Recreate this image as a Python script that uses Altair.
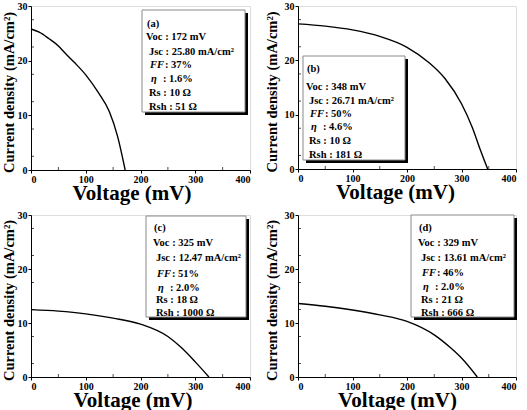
import altair as alt
import pandas as pd

FONT = "Liberation Serif"

# J-V curves of the four cells (voltage in mV, current density in mA/cm2)
voltage_a = [0, 15, 33, 50, 63, 80, 100, 124, 143, 158, 172]
current_a = [25.8, 25.2, 24.0, 22.7, 21.3, 19.6, 17.4, 14.0, 10.7, 6.2, 0]
voltage_b = [0, 50, 100, 150, 200, 240, 270, 300, 320, 335, 348]
current_b = [26.71, 26.3, 25.6, 24.4, 22.4, 19.6, 16.6, 12.0, 7.6, 3.4, 0]
voltage_c = [0, 50, 100, 150, 200, 250, 275, 300, 325]
current_c = [12.47, 12.2, 11.7, 10.9, 9.8, 7.5, 5.4, 2.8, 0]
voltage_d = [0, 50, 100, 150, 200, 250, 280, 300, 329]
current_d = [13.61, 13.1, 12.4, 11.5, 10.3, 7.8, 5.4, 3.5, 0]

# cell parameters shown in each inset
panel_tags = ["(a)", "(b)", "(c)", "(d)"]
voc_mv = [172, 348, 325, 329]
jsc_ma = ["25.80", "26.71", "12.47", "13.61"]
ff_pct = [37, 50, 51, 46]
eta_pct = ["1.6", "4.6", "2.0", "2.0"]
rs_ohm = [10, 10, 18, 21]
rsh_ohm = [51, 181, 1000, 666]

x_ticks = [0, 100, 200, 300, 400]
y_ticks = [0, 5, 10, 15, 20, 25, 30]
x_minor = [50, 150, 250, 350]
y_minor = [2.5, 7.5, 12.5, 17.5, 22.5, 27.5]

# inset layout in pixels relative to each plot area:
# box (x1, y1, x2, y2), text left offset, text row centres, plot size, title offsets
layout = [
    dict(box=(111, 4, 214, 106), tl=5, rows=[18, 31, 46, 59, 73, 87, 101],
         w=219, h=164, tx=-22, xt=29, xs=-9),
    dict(box=(5, 50, 107, 154), tl=4, rows=[63, 81, 95, 108, 121, 135, 149],
         w=218, h=163, tx=-26, xt=29, xs=-12),
    dict(box=(115, 1, 215, 102), tl=8, rows=[13, 28, 43, 59, 73, 85, 98],
         w=219, h=162, tx=-22, xt=29, xs=-8),
    dict(box=(113, 0, 216, 102), tl=8, rows=[13, 28, 43, 58, 72, 85, 98],
         w=218, h=162, tx=-26, xt=29, xs=-10),
]

curves = [
    (voltage_a, current_a),
    (voltage_b, current_b),
    (voltage_c, current_c),
    (voltage_d, current_d),
]


def axis_style(title, size, **kw):
    return alt.Axis(
        title=title, titleFont=FONT, titleFontWeight="bold", titleFontSize=size,
        titleColor="black", labelFont=FONT, labelFontWeight="bold", labelFontSize=10,
        labelColor="black", domainColor="black", tickColor="black", tickSize=3,
        labelPadding=1, grid=False, **kw)


def rect(x1, y1, x2, y2, fill, stroke=None):
    kw = dict(fill=fill)
    if stroke:
        kw.update(stroke=stroke, strokeWidth=1)
    return alt.Chart(pd.DataFrame({"k": [0]})).mark_rect(**kw).encode(
        x=alt.value(x1), x2=alt.value(x2), y=alt.value(y1), y2=alt.value(y2))


def panel(i):
    lay = layout[i]
    w, h = lay["w"], lay["h"]
    volts, amps = curves[i]
    df = pd.DataFrame({"V": volts, "J": amps})

    xenc = alt.X("V:Q", scale=alt.Scale(domain=[0, 400], nice=False),
                 axis=axis_style("Voltage (mV)", 21, values=x_ticks, titleY=lay["xt"],
                                 titleX=w / 2 + lay["xs"], titleAlign="center",
                                 titleBaseline="alphabetic"))
    yenc = alt.Y("J:Q", scale=alt.Scale(domain=[0, 30], nice=False),
                 axis=axis_style("Current density (mA/cm²)", 14.5, values=y_ticks,
                                 titleX=lay["tx"], titleY=h / 2 + 4, titleAngle=270,
                                 titleAlign="center", titleBaseline="middle"))

    line = alt.Chart(df).mark_line(color="black", strokeWidth=1.4,
                                   interpolate="monotone").encode(x=xenc, y=yenc)

    xm = alt.Chart(pd.DataFrame({"V": x_minor})).mark_tick(
        color="black", thickness=1, size=3, orient="vertical").encode(
        x=alt.X("V:Q"), y=alt.value(h - 1.5))
    ym = alt.Chart(pd.DataFrame({"J": y_minor})).mark_tick(
        color="black", thickness=1, size=3, orient="horizontal").encode(
        y=alt.Y("J:Q"), x=alt.value(1.5))

    x1, y1, x2, y2 = lay["box"]
    shadow = rect(x1 + 3, y1 + 3, x2 + 3, y2 + 3, "black")
    inner = rect(x1, y1, x2, y2, "white", "#8a8a8a")

    r = lay["rows"]
    t0 = x1 + lay["tl"]
    normal = pd.DataFrame({
        "t": [panel_tags[i], f"Voc : {voc_mv[i]} mV", f"Jsc : {jsc_ma[i]} mA/cm²",
              f": {ff_pct[i]}%", f": {eta_pct[i]}%", f"Rs : {rs_ohm[i]} Ω",
              f"Rsh : {rsh_ohm[i]} Ω"],
        "px": [t0, t0 - 1, t0 + 2, t0 + 18, t0 + 16, t0 + 2, t0 + 2],
        "py": r,
    })
    italic = pd.DataFrame({
        "t": ["FF", "η"],
        "px": [t0 + 3, t0 + 4],
        "py": [r[3], r[4]],
    })
    txt_n = alt.Chart(normal).mark_text(
        font=FONT, fontWeight="bold", fontSize=10.5, align="left",
        baseline="middle", color="black").encode(
        x=alt.X("px:Q", scale=None, axis=None), y=alt.Y("py:Q", scale=None, axis=None),
        text="t:N")
    txt_i = alt.Chart(italic).mark_text(
        font=FONT, fontWeight="bold", fontStyle="italic", fontSize=10.5, align="left",
        baseline="middle", color="black").encode(
        x=alt.X("px:Q", scale=None, axis=None), y=alt.Y("py:Q", scale=None, axis=None),
        text="t:N")

    return alt.layer(line, xm, ym, shadow, inner, txt_n, txt_i).properties(
        width=w, height=h)


top = alt.hconcat(panel(0), panel(1), spacing=12)
bottom = alt.hconcat(panel(2), panel(3), spacing=12)
chart = alt.vconcat(top, bottom, spacing=5).properties(
    padding={"left": 0, "top": 0, "right": 4, "bottom": 0}
).configure_view(stroke="black", strokeWidth=1).configure(background="white")

chart.save("out.html", embed_options={"renderer": "svg", "actions": False})
